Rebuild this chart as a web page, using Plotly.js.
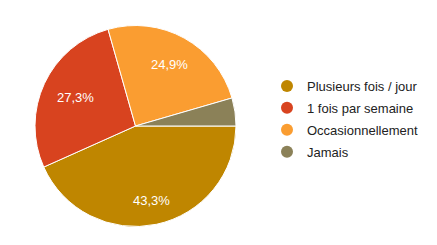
<!DOCTYPE html>
<html><head><meta charset="utf-8">
<script src="https://cdn.plot.ly/plotly-3.0.1.min.js"></script>
<style>html,body{margin:0;padding:0;background:#fff;}#chart{width:437px;height:245px;}</style>
</head><body><div id="chart"></div>
<script>
var categories = ["Plusieurs fois / jour", "1 fois par semaine", "Occasionnellement", "Jamais"];
var values = [43.3, 27.3, 24.9, 4.5];
var sliceLabels = ["43,3%", "27,3%", "24,9%", ""];
var labelRadius = [0.76, 0.66, 0.70, 0.7];
var colors = ["#bf8600", "#d8431f", "#fa9d31", "#8b8158"];

var W = 437, H = 245;
var dom = {x: [35/W, 236/W], y: [1 - 227/H, 1 - 25/H]};
var rotation = 90;

var traces = [{
  type: "pie",
  labels: categories,
  values: values,
  textinfo: "none",
  sort: false,
  direction: "clockwise",
  rotation: rotation,
  marker: {colors: colors, line: {color: "#ffffff", width: 1}},
  domain: dom,
  showlegend: false,
  hoverinfo: "none"
}];
categories.forEach(function(c, i) {
  traces.push({
    type: "scatter", mode: "markers", x: [null], y: [null], name: c,
    legendgroup: "g" + i,
    marker: {color: colors[i], size: 14, symbol: "circle"},
    showlegend: true, xaxis: "x", yaxis: "y"
  });
});

// slice labels placed at slice mid-angle, derived from the values
var total = values.reduce(function(a, b) { return a + b; }, 0);
var cx = (dom.x[0] + dom.x[1]) / 2 * W, cy = (1 - (dom.y[0] + dom.y[1]) / 2) * H;
var R = (dom.x[1] - dom.x[0]) * W / 2;
var annotations = [];
var cum = 0;
values.forEach(function(v, i) {
  var mid = rotation + (cum + v / 2) / total * 360;
  cum += v;
  if (!sliceLabels[i]) return;
  var a = mid * Math.PI / 180;
  var px = cx + labelRadius[i] * R * Math.sin(a);
  var py = cy - labelRadius[i] * R * Math.cos(a);
  annotations.push({
    xref: "paper", yref: "paper", x: px / W, y: 1 - py / H,
    xanchor: "center", yanchor: "middle", showarrow: false,
    text: sliceLabels[i],
    font: {family: "Arial, Liberation Sans, sans-serif", size: 13, color: "#ffffff"}
  });
});

var layout = {
  width: W, height: H,
  margin: {l: 0, r: 0, t: 0, b: 0},
  paper_bgcolor: "#ffffff", plot_bgcolor: "#ffffff",
  xaxis: {visible: false}, yaxis: {visible: false},
  showlegend: true,
  annotations: annotations,
  legend: {
    x: 267/W, y: 1 - 71/H, xanchor: "left", yanchor: "top",
    font: {family: "Arial, Liberation Sans, sans-serif", size: 13, color: "#222222"},
    itemsizing: "constant", tracegroupgap: 2, itemwidth: 30
  }
};
Plotly.newPlot("chart", traces, layout, {staticPlot: true});
</script></body></html>
